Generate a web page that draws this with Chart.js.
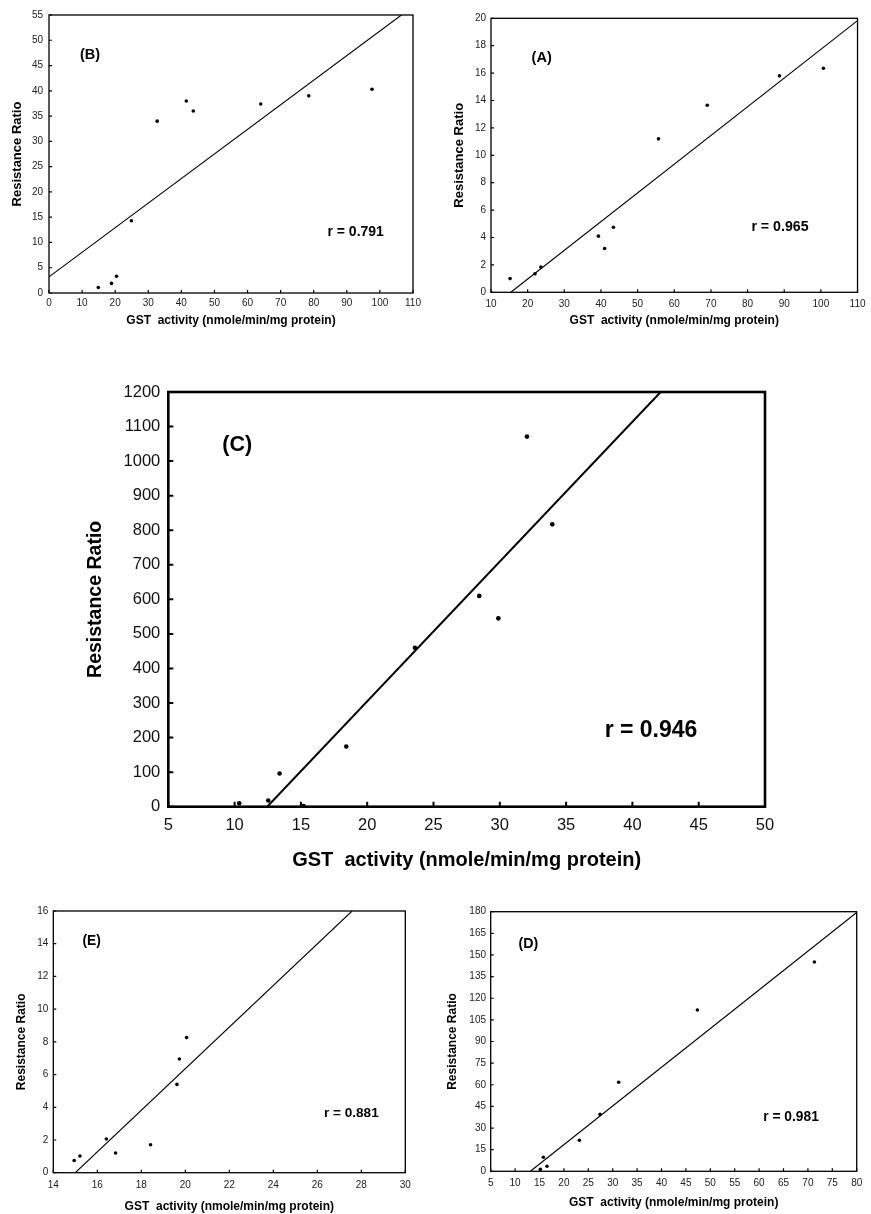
<!DOCTYPE html>
<html><head><meta charset="utf-8">
<script src="https://cdn.jsdelivr.net/npm/chart.js@4.4.1/dist/chart.umd.min.js"></script>
<style>
html,body{margin:0;padding:0;background:#fff;}
body{width:871px;height:1214px;position:relative;overflow:hidden;font-family:"Liberation Sans",Arial,sans-serif;}
.panel{position:absolute;}
.panel canvas{position:absolute;left:0;top:0;}
.note{position:absolute;transform:translate(-50%,-50%);font-weight:bold;color:#000;white-space:nowrap;line-height:1;font-family:"Liberation Sans",Arial,sans-serif;}
</style></head><body>
<div id="pB" class="panel"></div>
<div id="pA" class="panel"></div>
<div id="pC" class="panel"></div>
<div id="pE" class="panel"></div>
<div id="pD" class="panel"></div>
<script>
// ---------- DATA ----------
const xTitle = 'GST  activity (nmole/min/mg protein)';
const yTitle = 'Resistance Ratio';

// Panel (B)
const bX = [14.9, 18.9, 20.4, 24.9, 32.7, 41.5, 43.6, 64.0, 78.5, 97.6];
const bY = [1.1, 1.9, 3.3, 14.3, 34.0, 38.0, 36.0, 37.4, 39.0, 40.3];
const bLineX = [0, 106.5];
const bLineY = [3.2, 55];
const bLabel = '(B)';
const bR = 'r = 0.791';

// Panel (A)
const aX = [15.2, 22.0, 23.6, 39.3, 41.0, 43.4, 55.7, 69.0, 88.7, 100.7];
const aY = [1.0, 1.35, 1.85, 4.1, 3.2, 4.75, 11.2, 13.65, 15.8, 16.35];
const aLineX = [15.4, 110];
const aLineY = [0, 19.83];
const aLabel = '(A)';
const aR = 'r = 0.965';

// Panel (C)
const cX = [10.35, 12.54, 13.39, 15.2, 18.42, 23.6, 28.45, 29.89, 32.05, 33.96];
const cY = [10, 18, 96, 2, 174, 460, 610, 545, 1071, 817];
const cLineX = [12.46, 42.13];
const cLineY = [0, 1200];
const cLabel = '(C)';
const cR = 'r = 0.946';

// Panel (E)
const eX = [14.95, 15.21, 16.41, 16.83, 18.42, 19.62, 19.73, 20.06];
const eY = [0.75, 1.02, 2.06, 1.2, 1.71, 5.4, 6.95, 8.26];
const eLineX = [15.0, 27.58];
const eLineY = [0, 16];
const eLabel = '(E)';
const eR = 'r = 0.881';

// Panel (D)
const dX = [15.18, 15.79, 16.54, 23.17, 27.4, 31.23, 47.35, 71.33];
const dY = [1.4, 9.7, 3.5, 21.5, 39.5, 61.7, 111.8, 145.1];
const dLineX = [13.13, 80];
const dLineY = [0, 179.5];
const dLabel = '(D)';
const dR = 'r = 0.981';

// Axis ranges / tick steps
const bXAxis = {min: 0, max: 110, step: 10}, bYAxis = {min: 0, max: 55, step: 5};
const aXAxis = {min: 10, max: 110, step: 10}, aYAxis = {min: 0, max: 20, step: 2};
const cXAxis = {min: 5, max: 50, step: 5}, cYAxis = {min: 0, max: 1200, step: 100};
const eXAxis = {min: 14, max: 30, step: 2}, eYAxis = {min: 0, max: 16, step: 2};
const dXAxis = {min: 5, max: 80, step: 5}, dYAxis = {min: 0, max: 180, step: 15};

// ---------- RENDERING ----------
const FONT = '"Liberation Sans", Arial, Helvetica, sans-serif';
const zip = (xs, ys) => xs.map((x, i) => ({x, y: ys[i]}));
const plain = v => String(v);

const framePlugin = {
  id: 'frame',
  afterDatasetsDraw(chart, args, o) {
    const {ctx, chartArea: a, scales: {x, y}} = chart;
    ctx.save();
    ctx.strokeStyle = '#000';
    ctx.lineWidth = o.tickWidth;
    ctx.beginPath();
    x.ticks.forEach(t => { const p = x.getPixelForValue(t.value); ctx.moveTo(p, a.bottom); ctx.lineTo(p, a.bottom - o.tickLen); });
    y.ticks.forEach(t => { const p = y.getPixelForValue(t.value); ctx.moveTo(a.left, p); ctx.lineTo(a.left + o.tickLen, p); });
    ctx.stroke();
    ctx.lineWidth = o.width;
    ctx.strokeRect(a.left, a.top, a.right - a.left, a.bottom - a.top);
    ctx.restore();
  }
};

function makePanel(id, c) {
  const div = document.getElementById(id);
  div.style.left = c.box[0] + 'px'; div.style.top = c.box[1] + 'px';
  div.style.width = c.box[2] + 'px'; div.style.height = c.box[3] + 'px';
  const cv = document.createElement('canvas');
  cv.width = c.box[2]; cv.height = c.box[3];
  cv.style.width = c.box[2] + 'px'; cv.style.height = c.box[3] + 'px';
  div.appendChild(cv);
  const yW = c.area[0], padTop = c.area[1], padRight = c.box[2] - c.area[2], xH = c.box[3] - c.area[3];
  new Chart(cv, {
    type: 'scatter',
    data: {
      datasets: [
        {data: zip(c.xs, c.ys), pointRadius: c.pr, pointHoverRadius: c.pr, backgroundColor: '#000', borderWidth: 0, pointBorderWidth: 0},
        {data: zip(c.lx, c.ly), showLine: true, pointRadius: 0, borderColor: '#000', borderWidth: c.lw, fill: false}
      ]
    },
    options: {
      responsive: false, animation: false, devicePixelRatio: 1,
      layout: {padding: {top: padTop, right: padRight, left: 0, bottom: 0}},
      plugins: {legend: {display: false}, tooltip: {enabled: false},
        frame: {width: c.fw, tickWidth: c.tw, tickLen: c.tl}},
      scales: {
        x: {
          type: 'linear', min: c.xa.min, max: c.xa.max,
          grid: {display: false, drawTicks: false}, border: {display: false},
          ticks: {stepSize: c.xa.step, autoSkip: false, maxRotation: 0, padding: c.xtp, callback: plain,
                  color: c.tc, font: {family: FONT, size: c.tf}},
          title: {display: true, text: xTitle, color: '#000', padding: {top: 0, bottom: c.xtb},
                  font: {family: FONT, size: c.xtf, weight: 'bold'}},
          afterFit: s => { s.height = xH; }
        },
        y: {
          type: 'linear', min: c.ya.min, max: c.ya.max,
          grid: {display: false, drawTicks: false}, border: {display: false},
          ticks: {stepSize: c.ya.step, autoSkip: false, padding: c.ytp, callback: plain,
                  color: c.tc, font: {family: FONT, size: c.tf}},
          title: {display: true, text: yTitle, color: '#000', padding: {top: c.ytt, bottom: 0},
                  font: {family: FONT, size: c.ytf, weight: 'bold'}},
          afterFit: s => { s.width = yW; }
        }
      }
    },
    plugins: [framePlugin]
  });
  c.notes.forEach(n => {
    const d = document.createElement('div');
    d.className = 'note';
    d.textContent = n.t;
    d.style.left = n.x + 'px'; d.style.top = n.y + 'px'; d.style.fontSize = n.s + 'px';
    document.body.appendChild(d);
  });
}

makePanel('pB', {box: [0, 0, 435, 330], area: [49, 15, 413, 293],
  xs: bX, ys: bY, lx: bLineX, ly: bLineY, xa: bXAxis, ya: bYAxis,
  pr: 1.8, lw: 1.1, fw: 1.3, tw: 1.2, tl: 3, tf: 10, tc: '#222',
  xtp: 4.3, ytp: 6, xtf: 12, xtb: 1.8, ytf: 13, ytt: 9.2,
  notes: [{t: bLabel, x: 90, y: 53.5, s: 14.5}, {t: bR, x: 355.7, y: 231, s: 14}]});

makePanel('pA', {box: [435, 0, 436, 330], area: [56, 18.3, 425, 292.3],
  xs: aX, ys: aY, lx: aLineX, ly: aLineY, xa: aXAxis, ya: aYAxis,
  pr: 1.8, lw: 1.1, fw: 1.3, tw: 1.2, tl: 3, tf: 10, tc: '#222',
  xtp: 5.5, ytp: 5, xtf: 12, xtb: 1.8, ytf: 13, ytt: 16.2,
  notes: [{t: aLabel, x: 541.7, y: 56.5, s: 14.5}, {t: aR, x: 780, y: 225.5, s: 14.2}]});

makePanel('pC', {box: [40, 340, 831, 540], area: [128.3, 52, 725, 466.7],
  xs: cX, ys: cY, lx: cLineX, ly: cLineY, xa: cXAxis, ya: cYAxis,
  pr: 2.3, lw: 2, fw: 2.6, tw: 2, tl: 5, tf: 16.5, tc: '#111',
  xtp: 8.5, ytp: 8, xtf: 20, xtb: 8, ytf: 19.5, ytt: 44,
  notes: [{t: cLabel, x: 237.3, y: 444.5, s: 21.5}, {t: cR, x: 651, y: 729, s: 23}]});

makePanel('pE', {box: [0, 880, 435, 334], area: [53.3, 31, 405.3, 292.7],
  xs: eX, ys: eY, lx: eLineX, ly: eLineY, xa: eXAxis, ya: eYAxis,
  pr: 1.8, lw: 1.1, fw: 1.3, tw: 1.2, tl: 3, tf: 10, tc: '#222',
  xtp: 6.3, ytp: 5, xtf: 12, xtb: 0, ytf: 12, ytt: 14.8,
  notes: [{t: eLabel, x: 91.7, y: 940.5, s: 13.8}, {t: eR, x: 351.3, y: 1112.5, s: 13.6}]});

makePanel('pD', {box: [435, 880, 436, 334], area: [55.7, 31.7, 421.7, 291.3],
  xs: dX, ys: dY, lx: dLineX, ly: dLineY, xa: dXAxis, ya: dYAxis,
  pr: 1.8, lw: 1.1, fw: 1.3, tw: 1.2, tl: 3, tf: 10, tc: '#222',
  xtp: 5.7, ytp: 4.7, xtf: 12, xtb: 3.8, ytf: 12, ytt: 10.8,
  notes: [{t: dLabel, x: 528.3, y: 942.5, s: 14.2}, {t: dR, x: 791, y: 1117, s: 13.8}]});
</script>
</body></html>
